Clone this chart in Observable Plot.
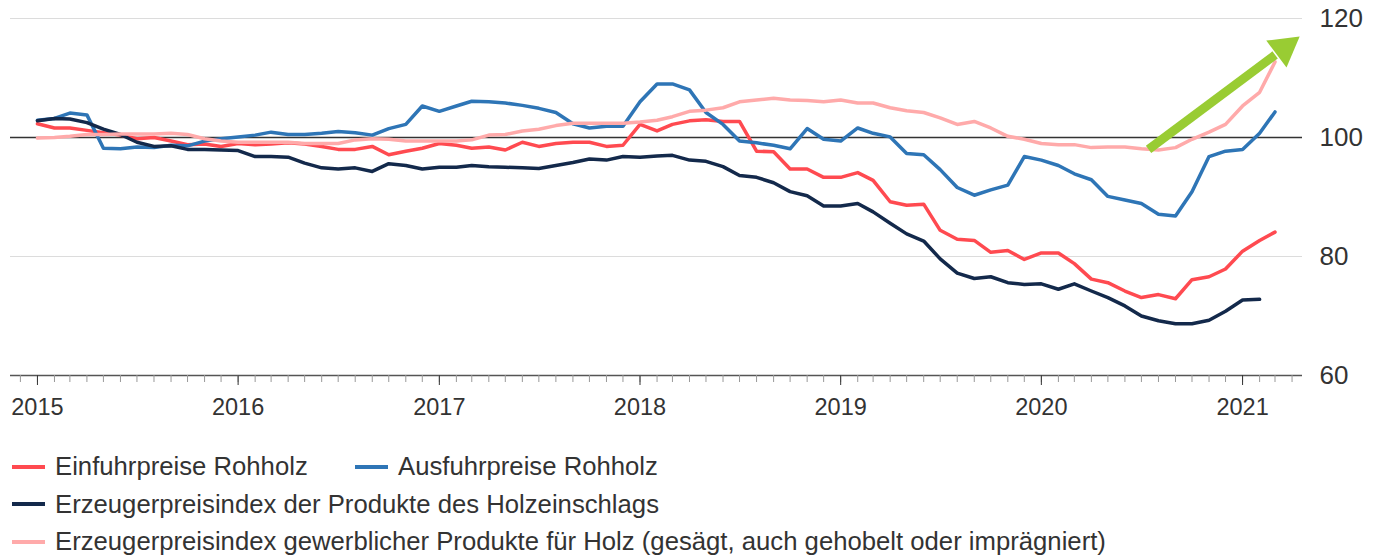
<!DOCTYPE html>
<html>
<head>
<meta charset="utf-8">
<script src="https://cdn.jsdelivr.net/npm/d3@7"></script>
<script src="https://cdn.jsdelivr.net/npm/@observablehq/plot@0.6"></script>
<style>
  html, body { margin: 0; padding: 0; background: #fff; }
  body { font-family: "Liberation Sans", Arial, sans-serif; color: #333; width: 1382px; height: 555px; overflow: hidden; }
  #legend { padding-top: 8px; font-size: 25.7px; line-height: 37.5px; }
  .row { display: flex; align-items: center; height: 37.5px; padding-left: 12px; white-space: nowrap; }
  .item { display: flex; align-items: center; }
  .sw { display: inline-block; width: 33px; height: 4px; margin-right: 10px; flex: none; }
</style>
</head>
<body>
<div id="chart"></div>
<div id="legend"></div>
<script>
// Monthly index values, starting January 2015
const firstMonth = "2015-01-01";
const seriesNames = [
  "Einfuhrpreise Rohholz",
  "Ausfuhrpreise Rohholz",
  "Erzeugerpreisindex der Produkte des Holzeinschlags",
  "Erzeugerpreisindex gewerblicher Produkte für Holz (gesägt, auch gehobelt oder imprägniert)"
];
const seriesColors = ["#ff4a50", "#2e75b6", "#13294b", "#ffaaaa"];

const einfuhr = [102.3,101.6,101.6,101.2,100.8,100.4,99.8,100.0,99.4,98.8,98.9,98.5,
  99.0,98.8,98.9,99.1,98.9,98.5,98.0,98.0,98.5,97.1,97.7,98.2,
  99.0,98.7,98.2,98.4,97.9,99.2,98.5,99.0,99.2,99.2,98.5,98.7,
  102.2,101.1,102.2,102.8,103.0,102.7,102.7,97.7,97.6,94.7,94.7,93.3,
  93.3,94.1,92.8,89.2,88.6,88.8,84.4,82.9,82.7,80.7,81.0,79.5,
  80.6,80.6,78.8,76.2,75.6,74.2,73.1,73.6,72.9,76.1,76.6,77.9,
  80.9,82.7,84.1];
const ausfuhr = [102.9,103.2,104.1,103.8,98.2,98.1,98.4,98.3,98.7,98.6,99.4,99.8,
  100.1,100.4,100.9,100.5,100.5,100.7,101.0,100.8,100.4,101.5,102.2,105.3,
  104.4,105.3,106.1,106.0,105.8,105.4,104.9,104.2,102.3,101.6,101.9,101.9,
  106.0,109.0,109.0,108.0,104.2,102.2,99.4,99.1,98.7,98.1,101.5,99.7,
  99.4,101.6,100.7,100.1,97.3,97.1,94.6,91.6,90.3,91.2,92.0,96.8,
  96.2,95.3,93.9,92.9,90.1,89.5,88.9,87.1,86.8,90.9,96.8,97.7,
  98.0,100.7,104.3];
const holzeinschlag = [102.8,103.2,103.1,102.5,101.4,100.5,99.2,98.5,98.6,98.0,98.0,97.9,
  97.8,96.8,96.8,96.7,95.7,94.9,94.7,94.9,94.3,95.6,95.3,94.7,
  95.0,95.0,95.3,95.1,95.0,94.9,94.8,95.3,95.8,96.4,96.2,96.8,
  96.7,96.9,97.0,96.2,96.0,95.1,93.6,93.3,92.4,90.9,90.2,88.5,
  88.5,88.9,87.5,85.6,83.8,82.6,79.6,77.2,76.3,76.6,75.6,75.3,
  75.4,74.5,75.4,74.2,73.1,71.7,70.0,69.2,68.7,68.7,69.3,70.8,
  72.7,72.8];
const gewerblich = [99.9,100.0,100.2,100.5,100.5,100.6,100.6,100.6,100.7,100.5,99.8,99.4,
  99.2,99.2,99.2,99.2,99.0,99.0,99.0,99.6,99.8,99.7,99.4,99.4,
  99.4,99.4,99.6,100.4,100.5,101.1,101.4,102.0,102.4,102.4,102.4,102.4,
  102.6,102.9,103.5,104.4,104.6,105.0,106.0,106.3,106.6,106.3,106.2,106.0,
  106.3,105.8,105.8,105.0,104.5,104.2,103.3,102.2,102.7,101.6,100.2,99.7,
  99.0,98.8,98.8,98.3,98.4,98.4,98.1,97.9,98.3,99.7,100.9,102.2,
  105.3,107.6,112.7];

// y-axis tick values, x-axis year labels
const yTicks = [60, 80, 100, 120];
const yearLabels = ["2015","2016","2017","2018","2019","2020","2021"];

// green trend arrow (annotation) in data coordinates: start and tip
const arrowDates = ["2020-07-14", "2021-04-14"];
const arrowValues = [98.0, 116.9];

const start = new Date(firstMonth);
const allSeries = [einfuhr, ausfuhr, holzeinschlag, gewerblich];
const rows = [];
allSeries.forEach((vals, s) => {
  vals.forEach((v, i) => rows.push({series: seriesNames[s], date: d3.utcMonth.offset(start, i), value: v}));
});

const yearTicks = yearLabels.map(y => new Date(y + "-01-01"));
const monthTicks = d3.utcMonth.range(new Date("2014-12-01"), new Date("2021-04-02"));

const a0 = new Date(arrowDates[0]), a1 = new Date(arrowDates[1]);
const lerp = f => ({date: new Date(+a0 + f * (a1 - a0)), value: arrowValues[0] + f * (arrowValues[1] - arrowValues[0])});
const headPoint = lerp(0.90);
const shaft = [lerp(0), lerp(0.84)];

const chart = Plot.plot({
  width: 1382,
  height: 440,
  marginLeft: 10,
  marginRight: 80,
  marginTop: 18,
  marginBottom: 65,
  style: {fontFamily: "'Liberation Sans', Arial, sans-serif", fontSize: "23px", color: "#333", background: "#fff"},
  x: {type: "utc", domain: [new Date("2014-11-13"), new Date("2021-04-20")]},
  y: {domain: [60, 120]},
  color: {domain: seriesNames, range: seriesColors},
  marks: [
    Plot.ruleY([80, 120], {stroke: "#dcdcdc", strokeWidth: 1}),
    Plot.ruleY([100], {stroke: "#333", strokeWidth: 1.6}),
    Plot.line(rows, {x: "date", y: "value", z: "series", stroke: "series", strokeWidth: 3.5, strokeLinejoin: "round"}),
    Plot.line(shaft, {x: "date", y: "value", stroke: "#99cc33", strokeWidth: 9, strokeLinecap: "butt"}),
    Plot.dot([headPoint], {x: "date", y: "value", symbol: "triangle", r: 12.5, fill: "#99cc33", stroke: null, rotate: 53}),
    Plot.ruleY([60], {stroke: "#555", strokeWidth: 1.6}),
    Plot.axisX(monthTicks, {tickSize: 7, stroke: "#999", tickFormat: () => ""}),
    Plot.axisX(yearTicks, {tickSize: 10, stroke: "#333", tickPadding: 13, tickFormat: d3.utcFormat("%Y"), fontSize: 23.5, label: null}),
    Plot.axisY(yTicks, {anchor: "right", tickSize: 0, tickPadding: 17, fontSize: 26, label: null})
  ]
});
document.getElementById("chart").appendChild(chart);

// legend
const legend = document.getElementById("legend");
const layout = [[0, 1], [2], [3]];
layout.forEach(r => {
  const row = document.createElement("div");
  row.className = "row";
  r.forEach((s, k) => {
    const it = document.createElement("div");
    it.className = "item";
    if (r.length > 1 && k === 0) it.style.width = "343px";
    const sw = document.createElement("span");
    sw.className = "sw";
    sw.style.background = seriesColors[s];
    const tx = document.createElement("span");
    tx.textContent = seriesNames[s];
    it.appendChild(sw); it.appendChild(tx);
    row.appendChild(it);
  });
  legend.appendChild(row);
});
</script>
</body>
</html>
